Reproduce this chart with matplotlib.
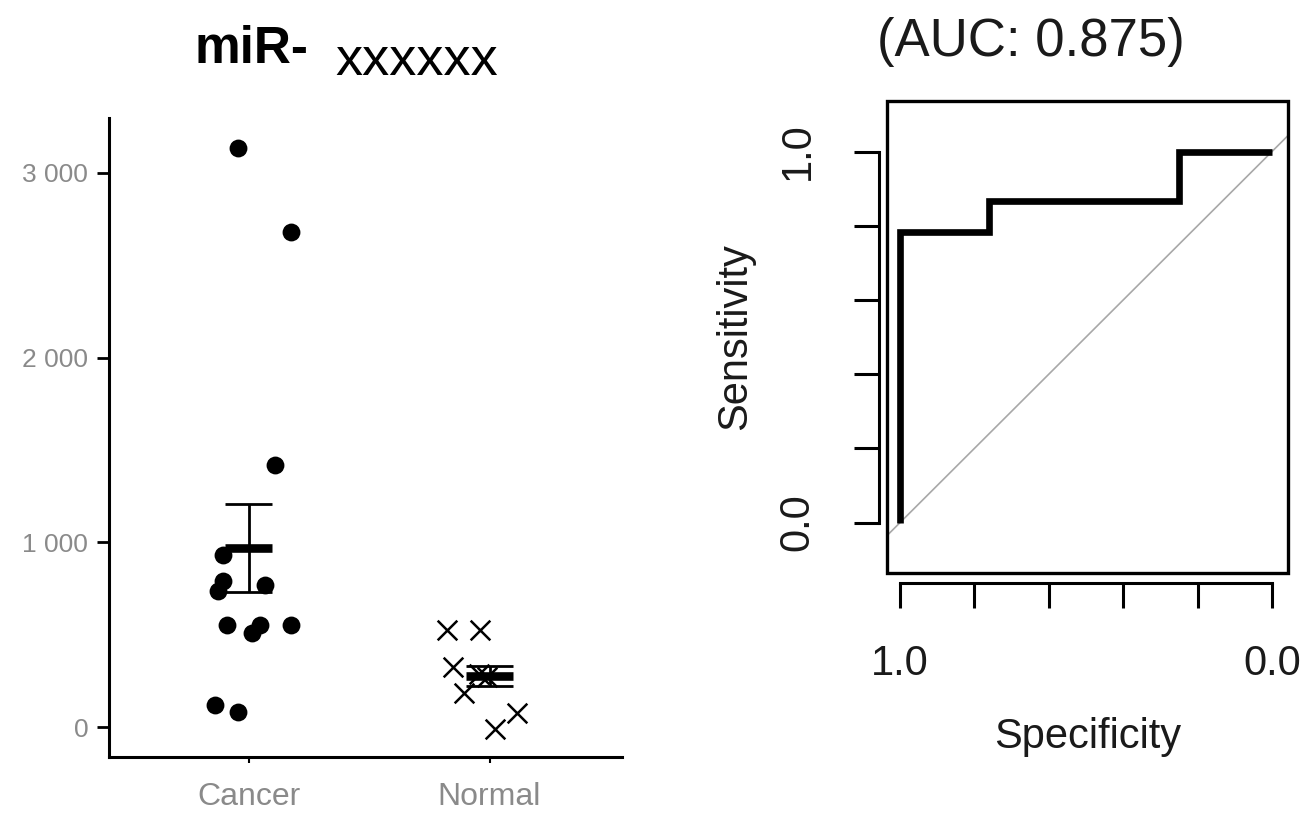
import matplotlib
matplotlib.use('Agg')
import matplotlib.pyplot as plt
from matplotlib.patches import Rectangle

plt.rcParams['font.family'] = ['Liberation Sans', 'DejaVu Sans']

# ---------------- data ----------------
categories = ['Cancer', 'Normal']
cancer_values = [3137, 2678, 1421, 930, 793, 736, 769, 550, 508, 550, 550, 119, 79]
cancer_jitter = [-0.044, 0.175, 0.110, -0.105, -0.105, -0.126, 0.066, -0.091, 0.014, 0.049, 0.175, -0.138, -0.044]
normal_values = [526, 526, 327, 186, 74, -12, 285, 270]
normal_jitter = [-0.178, -0.038, -0.152, -0.105, 0.113, 0.023, -0.044, -0.009]
group_means = [969, 278]
group_sems = [236, 54]
y_ticks = [0, 1000, 2000, 3000]
y_tick_labels = ['0', '1 000', '2 000', '3 000']

roc_specificity = [1.0, 1.0, 0.76, 0.76, 0.25, 0.25, 0.0]
roc_sensitivity = [0.0, 0.784, 0.784, 0.868, 0.868, 1.0, 1.0]
auc = 0.875
roc_ticks = [0.0, 0.2, 0.4, 0.6, 0.8, 1.0]
roc_tick_labels = ['0.0', '', '', '', '', '1.0']

W, H = 1302, 818
fig = plt.figure(figsize=(W / 100, H / 100), dpi=100)

# ---------------- left: dot plot ----------------
ax1 = fig.add_axes([109 / W, 1 - 757 / H, (622 - 109) / W, (757 - 118) / H])
xpos = list(range(len(categories)))
ax1.scatter([xpos[0] + j for j in cancer_jitter], cancer_values, s=165, marker='o',
            color='black', linewidths=0, zorder=3)
ax1.scatter([xpos[1] + j for j in normal_jitter], normal_values, s=200, marker='x',
            color='black', linewidths=1.8, zorder=3)
hw = 0.098
for x, m, e in zip(xpos, group_means, group_sems):
    ax1.hlines(m, x - hw, x + hw, color='black', lw=6.2, zorder=4)
    ax1.vlines(x, m - e, m + e, color='black', lw=2.0, zorder=4)
    ax1.hlines([m - e, m + e], x - hw, x + hw, color='black', lw=2.0, zorder=4)

ax1.set_xlim(-0.58, 1.55)
ax1.set_ylim(-162, 3297)
ax1.set_xticks(xpos)
ax1.set_xticklabels(categories)
ax1.set_yticks(y_ticks)
ax1.set_yticklabels(y_tick_labels)
for s in ['top', 'right']:
    ax1.spines[s].set_visible(False)
for s in ['left', 'bottom']:
    ax1.spines[s].set_linewidth(2.2)
ax1.tick_params(axis='y', length=9, width=2, pad=6, labelsize=19, labelcolor='#8a8a8a')
ax1.tick_params(axis='x', length=4, width=1.5, pad=14, labelsize=23, labelcolor='#8a8a8a')

fig.text(195 / W, 1 - 63 / H, 'miR-', fontweight='bold', fontsize=37, ha='left', va='baseline')
fig.text(335 / W, 1 - 75 / H, 'xxxxxx', fontsize=39, ha='left', va='baseline')

# ---------------- right: ROC ----------------
ax2 = fig.add_axes([886.7 / W, 1 - 573 / H, (1288 - 886.7) / W, (573 - 100.7) / H])
ax2.set_xlim(1.036, -0.043)
ax2.set_ylim(-0.136, 1.137)
ax2.axline((1, 0), (0, 1), color='#a8a8a8', lw=1.2, zorder=1)
ax2.plot(roc_specificity, roc_sensitivity, color='black', lw=4.8,
         solid_capstyle='butt', solid_joinstyle='miter', zorder=3)

ax2.add_patch(Rectangle((0, 0), 1, 1, transform=ax2.transAxes, fill=False,
                        lw=2.4, edgecolor='black', clip_on=False, zorder=5))
for s in ['top', 'right']:
    ax2.spines[s].set_visible(False)
ax2.spines['left'].set_position(('outward', 5.8))
ax2.spines['bottom'].set_position(('outward', 7))
ax2.spines['left'].set_bounds(0, 1)
ax2.spines['bottom'].set_bounds(0, 1)
for s in ['left', 'bottom']:
    ax2.spines[s].set_linewidth(2.2)
ax2.set_xticks(roc_ticks)
ax2.set_xticklabels(roc_tick_labels)
ax2.set_yticks(roc_ticks)
ax2.set_yticklabels(roc_tick_labels)
ax2.tick_params(axis='both', length=18, width=2.2, labelsize=30, labelcolor='#1a1a1a')
ax2.tick_params(axis='x', pad=26)
ax2.tick_params(axis='y', pad=26)
for t in ax2.get_yticklabels():
    t.set_rotation(90)
    t.set_va('center')
    t.set_ha('right')

ax2.text(-0.378, 0.5, 'Sensitivity', transform=ax2.transAxes, rotation=90,
         ha='center', va='center', fontsize=30, color='#1a1a1a')
ax2.text(0.5, -0.347, 'Specificity', transform=ax2.transAxes,
         ha='center', va='center', fontsize=30, color='#1a1a1a')
fig.text(1031 / W, 1 - 42 / H, f'(AUC: {auc:.3f})', ha='center', va='center',
         fontsize=38, color='#1a1a1a')

fig.savefig('out.png', dpi=100)
